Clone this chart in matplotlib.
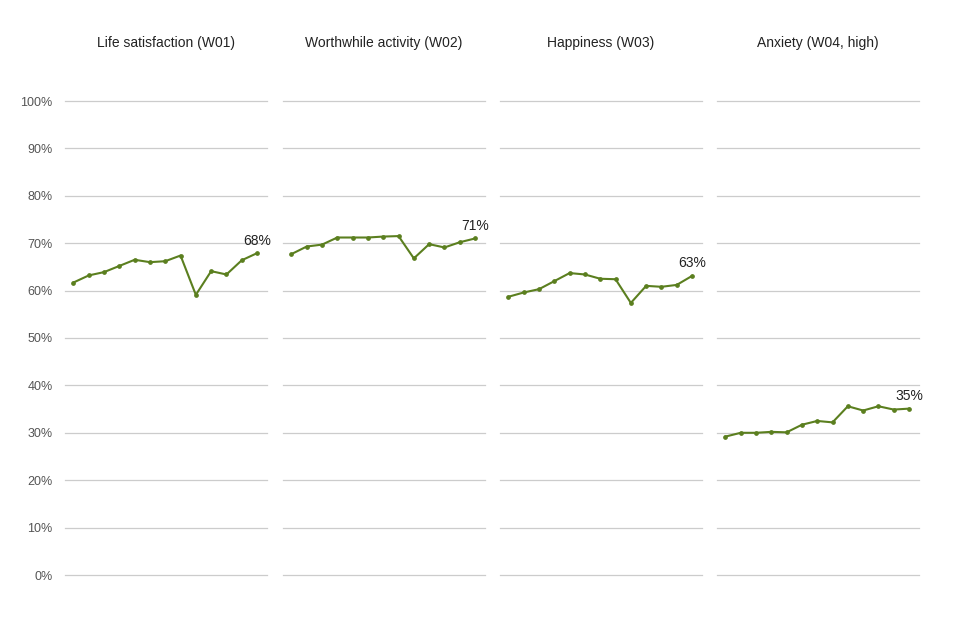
import matplotlib.pyplot as plt
import numpy as np

plt.rcParams['font.family'] = ['Liberation Sans', 'DejaVu Sans']

titles = ["Life satisfaction (W01)", "Worthwhile activity (W02)",
          "Happiness (W03)", "Anxiety (W04, high)"]

life = [61.7, 63.2, 63.9, 65.2, 66.5, 66.0, 66.2, 67.4, 59.1, 64.1, 63.4, 66.4, 67.9]
worthwhile = [67.7, 69.3, 69.7, 71.2, 71.2, 71.2, 71.4, 71.5, 66.8, 69.8, 69.1, 70.2, 71.0]
happiness = [58.7, 59.6, 60.3, 62.0, 63.7, 63.4, 62.5, 62.4, 57.4, 61.0, 60.8, 61.2, 63.1]
anxiety = [29.2, 30.0, 30.0, 30.2, 30.1, 31.7, 32.5, 32.2, 35.6, 34.7, 35.6, 34.9, 35.1]

series = [life, worthwhile, happiness, anxiety]
yticks = np.arange(0, 101, 10)
green = "#5b7f1f"

fig = plt.figure(figsize=(9.6, 6.4), dpi=100)
lefts = [65, 283, 500, 717]
for i, (t, vals) in enumerate(zip(titles, series)):
    ax = fig.add_axes([lefts[i] / 960, 1 - 575 / 640, 202 / 960, 474 / 640])
    x = np.arange(len(vals))
    ax.plot(x, vals, color=green, lw=1.5, marker='o', ms=2.4)
    ax.set_xlim(-0.55, len(vals) - 0.35)
    ax.set_ylim(0, 100)
    ax.set_yticks(yticks)
    ax.grid(axis='y', color='#cccccc', lw=0.9)
    for gl in ax.get_ygridlines():
        gl.set_clip_on(False)
    ax.set_axisbelow(True)
    ax.set_xticks([])
    for s in ax.spines.values():
        s.set_visible(False)
    if i == 0:
        ax.set_yticklabels([f"{v}%" for v in yticks], fontsize=9, color='#555555')
        ax.tick_params(axis='y', length=0, pad=9)
    else:
        ax.tick_params(axis='y', length=0, labelleft=False)
    ax.annotate(f"{round(vals[-1])}%", (x[-1], vals[-1]), xytext=(0, 4),
                textcoords='offset points', ha='center', va='bottom',
                fontsize=10, color='#222222')
    fig.text((lefts[i] + 101) / 960, 1 - 43 / 640, t, ha='center', va='center',
             fontsize=10, color='#222222')

plt.savefig("out.png", dpi=100)
